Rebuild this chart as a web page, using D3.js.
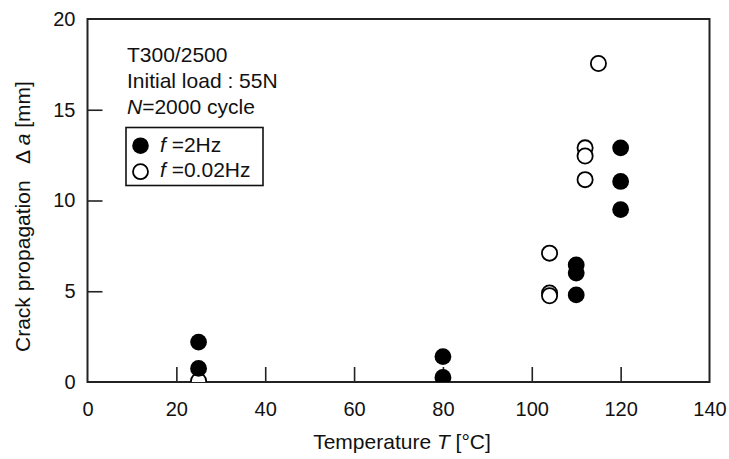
<!DOCTYPE html>
<html>
<head>
<meta charset="utf-8">
<script src="https://cdn.jsdelivr.net/npm/d3@7"></script>
<style>
  body { margin: 0; background: #fff; }
  text { font-family: "Liberation Sans", Arial, sans-serif; fill: #111; }
</style>
</head>
<body>
<script>
// data
const fastT  = [25, 25, 80, 80, 110, 110, 110, 120, 120, 120];       // f = 2Hz
const fastDa = [2.2, 0.75, 1.4, 0.25, 6.45, 6.0, 4.8, 12.9, 11.05, 9.5];
const slowT  = [25, 104, 104, 104, 112, 112, 112, 115];              // f = 0.02Hz
const slowDa = [0.05, 7.1, 4.9, 4.75, 12.9, 12.45, 11.15, 17.55];
const xTicks = [0, 20, 40, 60, 80, 100, 120, 140];
const yTicks = [0, 5, 10, 15, 20];

const width = 729, height = 459;
const m = {left: 87.5, right: 729 - 709.5, top: 19, bottom: 459 - 382};

const svg = d3.select("body").append("svg")
    .attr("width", width)
    .attr("height", height);

const x = d3.scaleLinear().domain([0, 140]).range([m.left, width - m.right]);
const y = d3.scaleLinear().domain([0, 20]).range([height - m.bottom, m.top]);

// clip so points on the axis are cut like the original
svg.append("clipPath").attr("id", "plot")
  .append("rect")
    .attr("x", m.left).attr("y", m.top)
    .attr("width", x(140) - x(0)).attr("height", y(0) - y(20));

// inward ticks, no domain line
const xAxis = svg.append("g")
    .attr("transform", `translate(0,${y(0)})`)
    .call(d3.axisBottom(x).tickValues(xTicks).tickSizeInner(-15).tickSizeOuter(0).tickPadding(18));
const yAxis = svg.append("g")
    .attr("transform", `translate(${x(0)},0)`)
    .call(d3.axisLeft(y).tickValues(yTicks).tickSizeInner(-15).tickSizeOuter(0).tickPadding(12));

[xAxis, yAxis].forEach(g => {
  g.select(".domain").remove();
  g.selectAll(".tick line").attr("stroke", "#222").attr("stroke-width", 1.6);
  g.selectAll(".tick text")
    .style("font-size", "20px")
    .attr("fill", "#111")
    .style("font-family", '"Liberation Sans", Arial, sans-serif');
});
// first/last ticks sit on the frame
xAxis.selectAll(".tick").filter(d => d === 0 || d === 140).select("line").remove();
yAxis.selectAll(".tick").filter(d => d === 0 || d === 20).select("line").remove();
xAxis.selectAll(".tick text").attr("dy", "0.71em").attr("y", 20);

// frame
svg.append("rect")
    .attr("x", x(0)).attr("y", y(20))
    .attr("width", x(140) - x(0)).attr("height", y(0) - y(20))
    .attr("fill", "none")
    .attr("stroke", "#222")
    .attr("stroke-width", 2);

// points
const pts = svg.append("g").attr("clip-path", "url(#plot)");
pts.selectAll(".slow")
  .data(d3.zip(slowT, slowDa))
  .enter().append("circle")
    .attr("class", "slow")
    .attr("cx", d => x(d[0]))
    .attr("cy", d => y(d[1]))
    .attr("r", 7.6)
    .attr("fill", "#fff")
    .attr("stroke", "#000")
    .attr("stroke-width", 1.8);
pts.selectAll(".fast")
  .data(d3.zip(fastT, fastDa))
  .enter().append("circle")
    .attr("class", "fast")
    .attr("cx", d => x(d[0]))
    .attr("cy", d => y(d[1]))
    .attr("r", 8.4)
    .attr("fill", "#000");

// notes
const note = svg.append("g").style("font-size", "21px");
note.append("text").attr("x", 127).attr("y", 62).text("T300/2500");
note.append("text").attr("x", 127).attr("y", 88).text("Initial load : 55N");
const n3 = note.append("text").attr("x", 127).attr("y", 114);
n3.append("tspan").style("font-style", "italic").text("N");
n3.append("tspan").text("=2000 cycle");

// legend
const leg = svg.append("g");
leg.append("rect")
    .attr("x", 126).attr("y", 127.5)
    .attr("width", 137).attr("height", 58)
    .attr("fill", "none").attr("stroke", "#111").attr("stroke-width", 1.6);
leg.append("circle").attr("cx", 140.5).attr("cy", 145.7).attr("r", 8.3).attr("fill", "#000");
leg.append("circle").attr("cx", 140.5).attr("cy", 171.7).attr("r", 7.5)
    .attr("fill", "#fff").attr("stroke", "#000").attr("stroke-width", 1.8);
const l1 = leg.append("text").attr("x", 160).attr("y", 152).style("font-size", "21px");
l1.append("tspan").style("font-style", "italic").text("f");
l1.append("tspan").text(" =2Hz");
const l2 = leg.append("text").attr("x", 160).attr("y", 177).style("font-size", "21px");
l2.append("tspan").style("font-style", "italic").text("f");
l2.append("tspan").text(" =0.02Hz");

// axis titles
const xt = svg.append("text")
    .attr("x", 402).attr("y", 449)
    .attr("text-anchor", "middle")
    .style("font-size", "21px");
xt.append("tspan").text("Temperature ");
xt.append("tspan").style("font-style", "italic").text("T");
xt.append("tspan").text(" [\u00b0C]");

const yt = svg.append("text")
    .attr("transform", "translate(30,352) rotate(-90)")
    .attr("text-anchor", "start")
    .style("font-size", "21px");
yt.append("tspan").text("Crack propagation\u2002 \u0394 ");
yt.append("tspan").style("font-style", "italic").text("a");
yt.append("tspan").text(" [mm]");
</script>
</body>
</html>
